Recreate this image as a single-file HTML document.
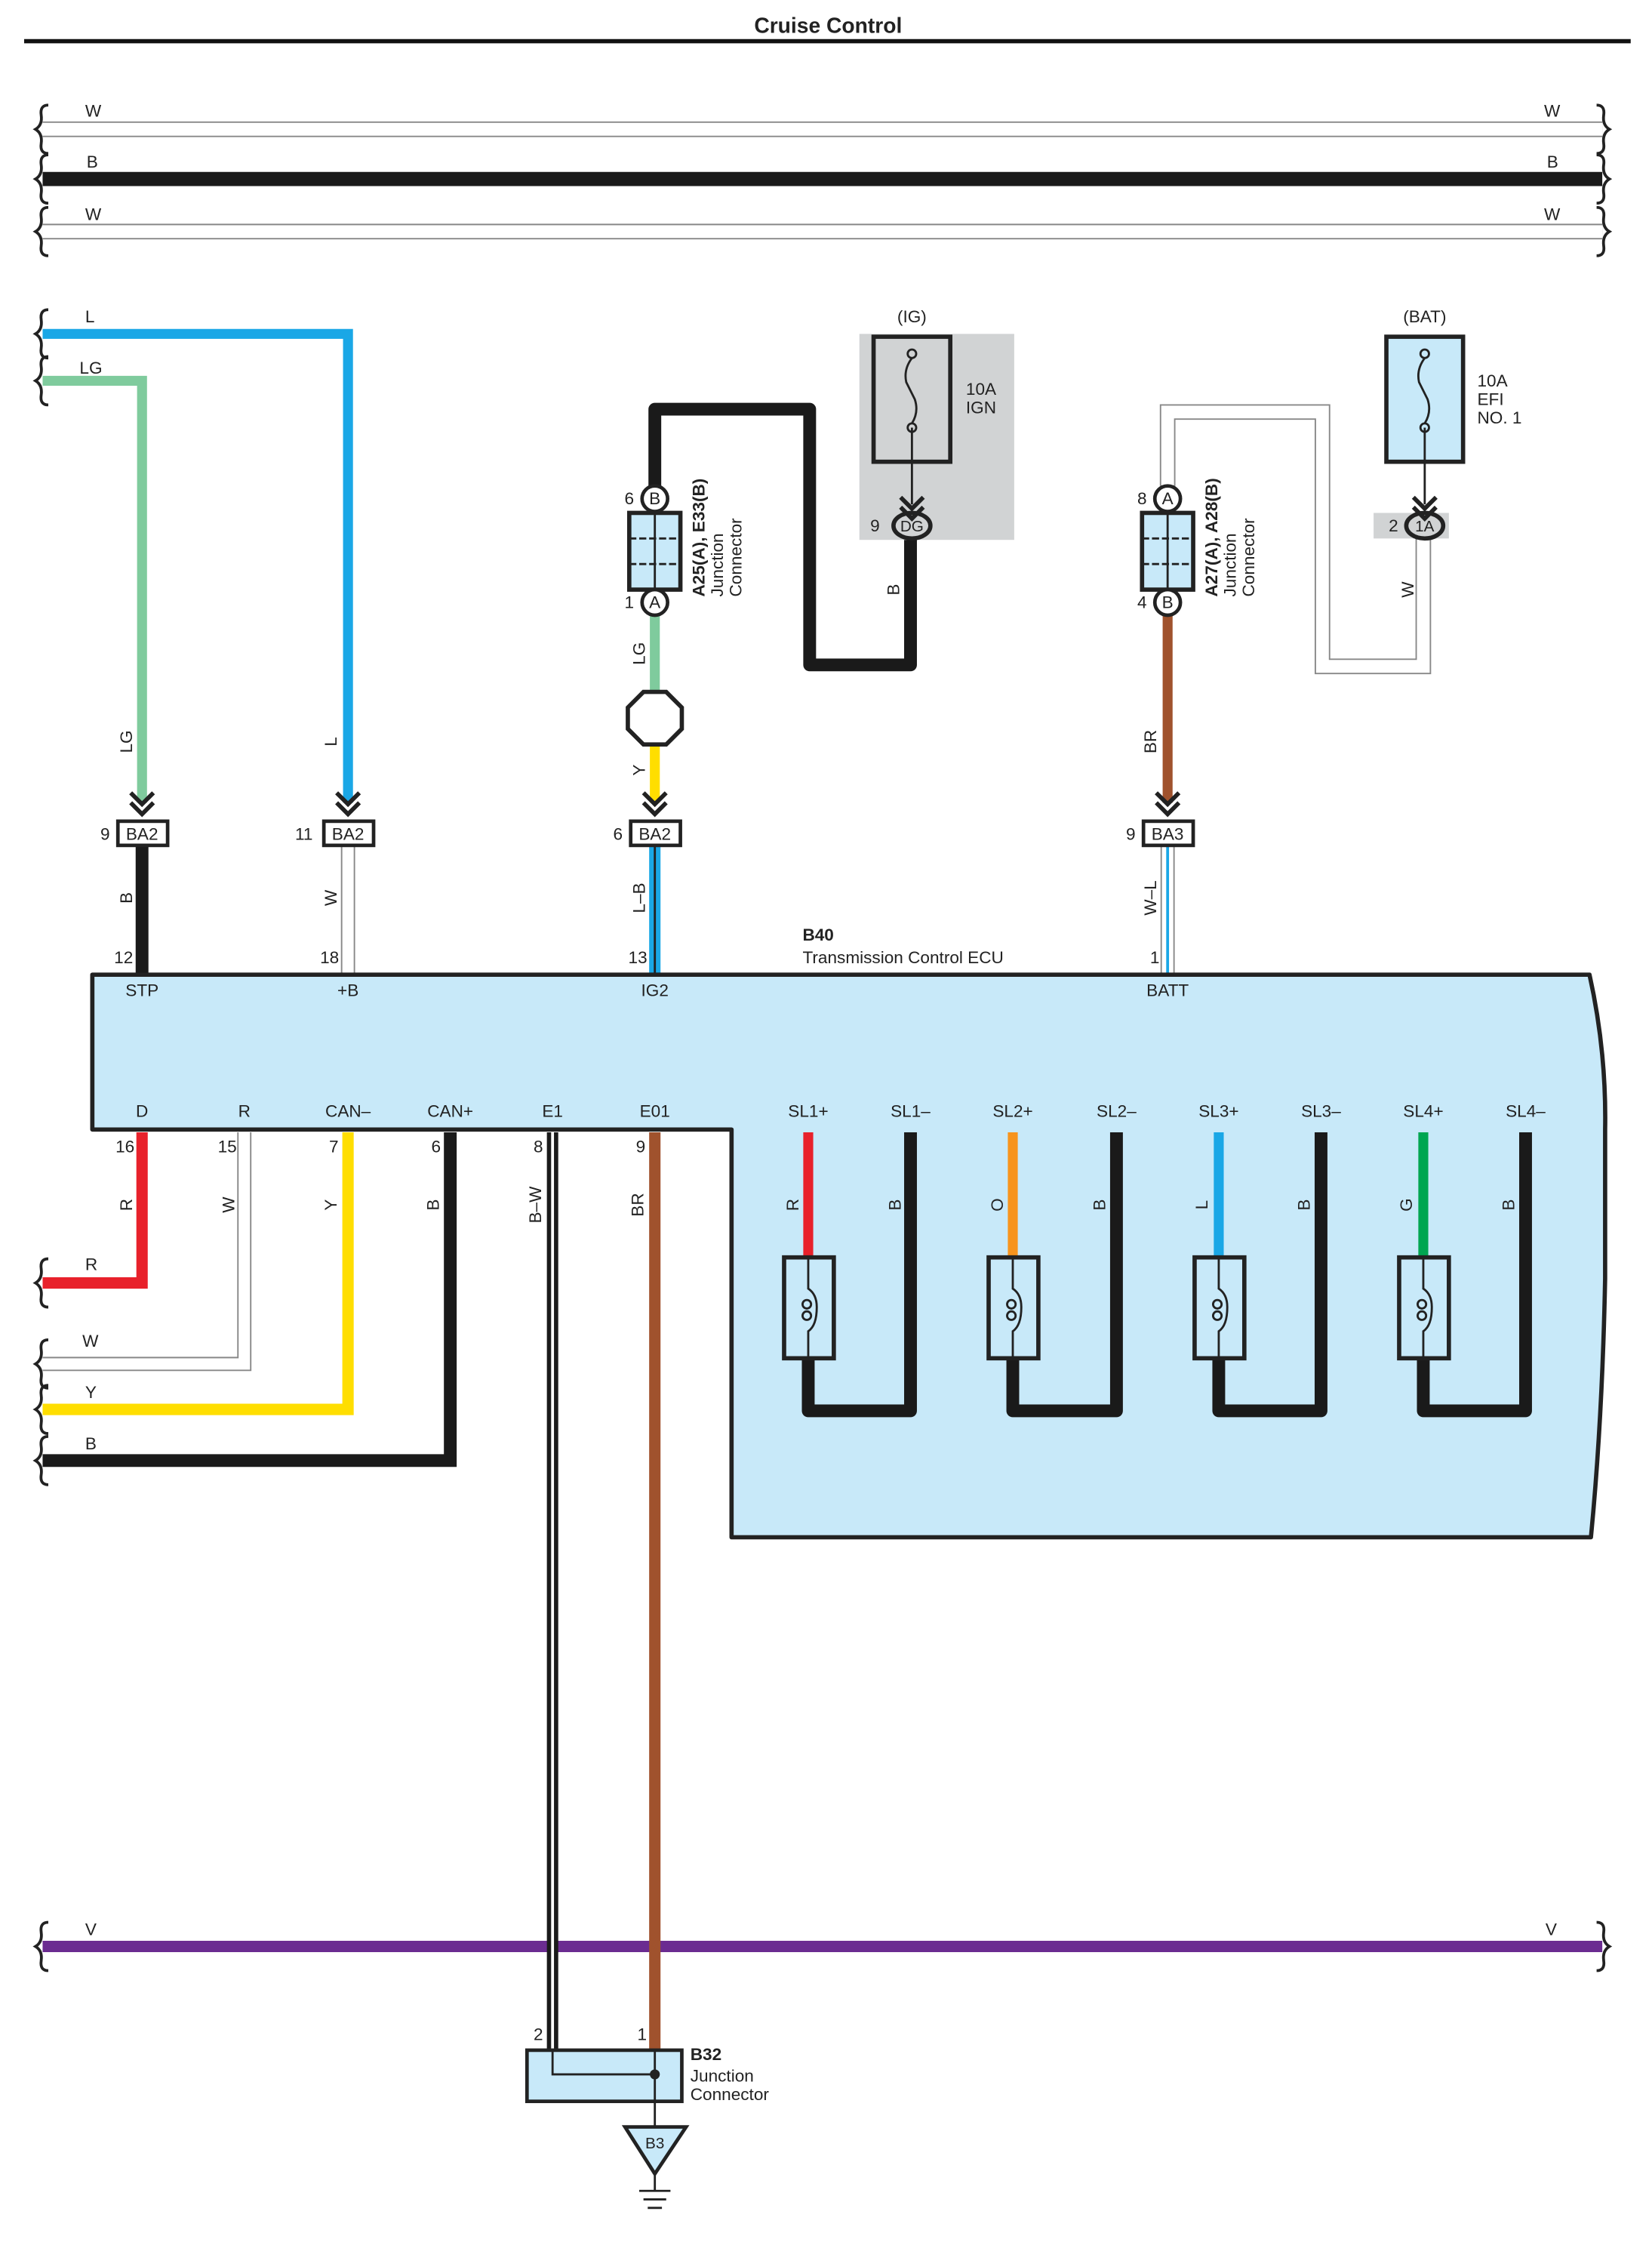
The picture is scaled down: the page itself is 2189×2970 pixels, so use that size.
<!DOCTYPE html>
<html><head><meta charset="utf-8"><style>html,body{margin:0;padding:0;background:#fff}svg{display:block}</style></head>
<body>
<svg width="2189" height="2970" viewBox="0 0 1163 1578" preserveAspectRatio="none" xmlns="http://www.w3.org/2000/svg" font-family="Liberation Sans, sans-serif" font-size="12" fill="#222">
<defs>
<g id="brace"><path d="M6,-17 Q0,-17 1,-10 Q2,-3 -3,0 Q2,3 1,10 Q0,17 6,17" fill="none" stroke="#222" stroke-width="2"/></g>
<g id="braceR"><path d="M-6,-17 Q0,-17 -1,-10 Q-2,-3 3,0 Q-2,3 -1,10 Q0,17 -6,17" fill="none" stroke="#222" stroke-width="2"/></g>
<g id="chev"><path d="M-8,-10 L0,-2 L8,-10 M-8,-3 L0,5 L8,-3" fill="none" stroke="#222" stroke-width="3"/></g>
<g id="coil"><rect x="-17" y="0" width="35" height="71" fill="#c8e9f9" stroke="#222" stroke-width="3"/><path d="M0,0 V22 Q6,26 6,35 Q6,48 0,52 V71" fill="none" stroke="#222" stroke-width="1.5"/><circle cx="-1" cy="33" r="3" fill="none" stroke="#222" stroke-width="1.5"/><circle cx="-1" cy="41" r="3" fill="none" stroke="#222" stroke-width="1.5"/></g>
<g id="fuse"><circle cx="0" cy="-26" r="3" fill="none" stroke="#222" stroke-width="1.5"/><circle cx="0" cy="26" r="3" fill="none" stroke="#222" stroke-width="1.5"/><path d="M0,-23 Q-6,-15 -4,-6 Q-1,0 2,6 Q5,15 0,23" fill="none" stroke="#222" stroke-width="1.5"/></g>
</defs>

<text x="583" y="23" text-anchor="middle" font-weight="bold" font-size="15">Cruise Control</text>
<line x1="17" y1="29" x2="1148" y2="29" stroke="#111" stroke-width="3"/>

<!-- top wires -->
<line x1="30" y1="91" x2="1128" y2="91" stroke="#888" stroke-width="11"/>
<line x1="30" y1="91" x2="1128" y2="91" stroke="#fff" stroke-width="9"/>
<line x1="30" y1="126" x2="1128" y2="126" stroke="#1a1a1a" stroke-width="10"/>
<line x1="30" y1="163" x2="1128" y2="163" stroke="#888" stroke-width="11"/>
<line x1="30" y1="163" x2="1128" y2="163" stroke="#fff" stroke-width="9"/>
<text x="60" y="82">W</text><text x="1087" y="82">W</text>
<text x="61" y="118">B</text><text x="1089" y="118">B</text>
<text x="60" y="155">W</text><text x="1087" y="155">W</text>
<use href="#brace" x="28" y="91"/><use href="#brace" x="28" y="126"/><use href="#brace" x="28" y="163"/>
<use href="#braceR" x="1130" y="91"/><use href="#braceR" x="1130" y="126"/><use href="#braceR" x="1130" y="163"/>

<!-- L and LG -->
<path d="M30,235 H245 V565" fill="none" stroke="#1aa7e6" stroke-width="7"/>
<path d="M30,268 H100 V565" fill="none" stroke="#7fcb9d" stroke-width="7"/>
<text x="60" y="227">L</text><text x="56" y="263">LG</text>
<use href="#brace" x="28" y="235"/><use href="#brace" x="28" y="268"/>
<text transform="translate(93,522) rotate(-90)" text-anchor="middle">LG</text>
<text transform="translate(237,522) rotate(-90)" text-anchor="middle">L</text>

<!-- IG fuse block -->
<rect x="605" y="235" width="109" height="145" fill="#d1d3d4"/>
<rect x="615" y="237" width="54" height="88" fill="#d1d3d4" stroke="#222" stroke-width="3"/>
<use href="#fuse" x="642" y="275"/>
<line x1="642" y1="301" x2="642" y2="355" stroke="#222" stroke-width="1.5"/>
<text x="642" y="227" text-anchor="middle">(IG)</text>
<text x="680" y="278">10A</text><text x="680" y="291">IGN</text>

<!-- IG black wire & junction A25 -->
<path d="M461,342 V288 H570 V468 H641 V380" fill="none" stroke="#1a1a1a" stroke-width="9" stroke-linejoin="round"/>
<ellipse cx="642" cy="370" rx="13" ry="9" fill="#d1d3d4" stroke="#222" stroke-width="3"/>
<text x="642" y="374" text-anchor="middle" font-size="11">DG</text>
<text x="616" y="374" text-anchor="middle">9</text>
<use href="#chev" x="642" y="360"/>
<text transform="translate(633,415) rotate(-90)" text-anchor="middle">B</text>

<line x1="461" y1="433" x2="461" y2="488" stroke="#7fcb9d" stroke-width="7"/>
<line x1="461" y1="522" x2="461" y2="565" stroke="#ffde00" stroke-width="7"/>
<polygon points="453,487 469,487 480,498 480,513 469,524 453,524 442,513 442,498" fill="#fff" stroke="#222" stroke-width="3"/>
<text transform="translate(454,460) rotate(-90)" text-anchor="middle">LG</text>
<text transform="translate(454,542) rotate(-90)" text-anchor="middle">Y</text>

<g>
<rect x="443" y="361" width="36" height="54" fill="#c8e9f9" stroke="#222" stroke-width="3"/>
<line x1="461" y1="361" x2="461" y2="415" stroke="#222" stroke-width="1.5"/>
<line x1="443" y1="379" x2="479" y2="379" stroke="#222" stroke-width="1.5" stroke-dasharray="5,2"/>
<line x1="443" y1="397" x2="479" y2="397" stroke="#222" stroke-width="1.5" stroke-dasharray="5,2"/>
<circle cx="461" cy="351" r="9" fill="#fff" stroke="#222" stroke-width="2.5"/><text x="461" y="355" text-anchor="middle">B</text>
<circle cx="461" cy="424" r="9" fill="#fff" stroke="#222" stroke-width="2.5"/><text x="461" y="428" text-anchor="middle">A</text>
<text x="443" y="355" text-anchor="middle">6</text><text x="443" y="428" text-anchor="middle">1</text>
<text transform="translate(496,420) rotate(-90)" font-weight="bold">A25(A), E33(B)</text>
<text transform="translate(509,420) rotate(-90)">Junction</text>
<text transform="translate(522,420) rotate(-90)">Connector</text>
</g>

<!-- BAT fuse -->
<rect x="976" y="237" width="54" height="88" fill="#c8e9f9" stroke="#222" stroke-width="3"/>
<use href="#fuse" x="1003" y="275"/>
<text x="1003" y="227" text-anchor="middle">(BAT)</text>
<text x="1040" y="272">10A</text><text x="1040" y="285">EFI</text><text x="1040" y="298">NO. 1</text>
<path d="M822,342 V290 H931 V469 H1002 V379" fill="none" stroke="#888" stroke-width="11"/>
<path d="M822,342 V290 H931 V469 H1002 V379" fill="none" stroke="#fff" stroke-width="9"/>
<line x1="1003" y1="301" x2="1003" y2="355" stroke="#222" stroke-width="1.5"/>
<rect x="967" y="361" width="53" height="18" fill="#d1d3d4"/>
<ellipse cx="1003" cy="370" rx="13" ry="9" fill="#d1d3d4" stroke="#222" stroke-width="3"/>
<text x="1003" y="374" text-anchor="middle" font-size="11">1A</text>
<text x="981" y="374" text-anchor="middle">2</text>
<use href="#chev" x="1003" y="360"/>
<text transform="translate(995,415) rotate(-90)" text-anchor="middle">W</text>

<line x1="822" y1="433" x2="822" y2="565" stroke="#a0522d" stroke-width="7"/>
<text transform="translate(814,522) rotate(-90)" text-anchor="middle">BR</text>
<g>
<rect x="804" y="361" width="36" height="54" fill="#c8e9f9" stroke="#222" stroke-width="3"/>
<line x1="822" y1="361" x2="822" y2="415" stroke="#222" stroke-width="1.5"/>
<line x1="804" y1="379" x2="840" y2="379" stroke="#222" stroke-width="1.5" stroke-dasharray="5,2"/>
<line x1="804" y1="397" x2="840" y2="397" stroke="#222" stroke-width="1.5" stroke-dasharray="5,2"/>
<circle cx="822" cy="351" r="9" fill="#fff" stroke="#222" stroke-width="2.5"/><text x="822" y="355" text-anchor="middle">A</text>
<circle cx="822" cy="424" r="9" fill="#fff" stroke="#222" stroke-width="2.5"/><text x="822" y="428" text-anchor="middle">B</text>
<text x="804" y="355" text-anchor="middle">8</text><text x="804" y="428" text-anchor="middle">4</text>
<text transform="translate(857,420) rotate(-90)" font-weight="bold">A27(A), A28(B)</text>
<text transform="translate(870,420) rotate(-90)">Junction</text>
<text transform="translate(883,420) rotate(-90)">Connector</text>
</g>

<!-- chevrons -->
<use href="#chev" x="100" y="568"/><use href="#chev" x="245" y="568"/><use href="#chev" x="461" y="568"/><use href="#chev" x="822" y="568"/>

<!-- wires BA -> ECU -->
<line x1="100" y1="595" x2="100" y2="686" stroke="#1a1a1a" stroke-width="9"/>
<line x1="245" y1="595" x2="245" y2="686" stroke="#888" stroke-width="10"/>
<line x1="245" y1="595" x2="245" y2="686" stroke="#fff" stroke-width="8"/>
<line x1="461" y1="595" x2="461" y2="686" stroke="#1aa7e6" stroke-width="8"/>
<line x1="461" y1="595" x2="461" y2="686" stroke="#222" stroke-width="1.5"/>
<line x1="822" y1="595" x2="822" y2="686" stroke="#888" stroke-width="10"/>
<line x1="822" y1="595" x2="822" y2="686" stroke="#fff" stroke-width="8"/>
<line x1="822" y1="595" x2="822" y2="686" stroke="#1aa7e6" stroke-width="2"/>

<g font-size="12">
<rect x="83" y="578" width="35" height="17" fill="#fff" stroke="#222" stroke-width="2.5"/><text x="100" y="591" text-anchor="middle">BA2</text><text x="74" y="591" text-anchor="middle">9</text>
<rect x="228" y="578" width="35" height="17" fill="#fff" stroke="#222" stroke-width="2.5"/><text x="245" y="591" text-anchor="middle">BA2</text><text x="214" y="591" text-anchor="middle">11</text>
<rect x="444" y="578" width="35" height="17" fill="#fff" stroke="#222" stroke-width="2.5"/><text x="461" y="591" text-anchor="middle">BA2</text><text x="435" y="591" text-anchor="middle">6</text>
<rect x="805" y="578" width="35" height="17" fill="#fff" stroke="#222" stroke-width="2.5"/><text x="822" y="591" text-anchor="middle">BA3</text><text x="796" y="591" text-anchor="middle">9</text>
</g>
<text transform="translate(93,632) rotate(-90)" text-anchor="middle">B</text>
<text transform="translate(237,632) rotate(-90)" text-anchor="middle">W</text>
<text transform="translate(454,632) rotate(-90)" text-anchor="middle">L–B</text>
<text transform="translate(814,632) rotate(-90)" text-anchor="middle">W–L</text>
<text x="87" y="678" text-anchor="middle">12</text><text x="232" y="678" text-anchor="middle">18</text><text x="449" y="678" text-anchor="middle">13</text><text x="813" y="678" text-anchor="middle">1</text>
<text x="565" y="662" font-weight="bold">B40</text>
<text x="565" y="678">Transmission Control ECU</text>

<!-- ECU body -->
<path d="M65,686 L1119,686 Q1131,740 1130,795 L1130,900 Q1128,1000 1120,1082 L515,1082 L515,795 L65,795 Z" fill="#c8e9f9" stroke="#222" stroke-width="3" stroke-linejoin="round"/>
<g text-anchor="middle">
<text x="100" y="701">STP</text><text x="245" y="701">+B</text><text x="461" y="701">IG2</text><text x="822" y="701">BATT</text>
<text x="100" y="786">D</text><text x="172" y="786">R</text><text x="245" y="786">CAN–</text><text x="317" y="786">CAN+</text><text x="389" y="786">E1</text><text x="461" y="786">E01</text>
<text x="569" y="786">SL1+</text><text x="641" y="786">SL1–</text><text x="713" y="786">SL2+</text><text x="786" y="786">SL2–</text>
<text x="858" y="786">SL3+</text><text x="930" y="786">SL3–</text><text x="1002" y="786">SL4+</text><text x="1074" y="786">SL4–</text>
</g>

<!-- bottom-left wires -->
<path d="M100,797 V903 H30" fill="none" stroke="#e8212b" stroke-width="8"/>
<path d="M172,797 V960 H30" fill="none" stroke="#888" stroke-width="10"/>
<path d="M172,797 V960 H30" fill="none" stroke="#fff" stroke-width="8"/>
<path d="M245,797 V992 H30" fill="none" stroke="#ffde00" stroke-width="8"/>
<path d="M317,797 V1028 H30" fill="none" stroke="#1a1a1a" stroke-width="9"/>
<use href="#brace" x="28" y="903"/><use href="#brace" x="28" y="960"/><use href="#brace" x="28" y="992"/><use href="#brace" x="28" y="1028"/>
<text x="60" y="894">R</text><text x="58" y="948">W</text><text x="60" y="984">Y</text><text x="60" y="1020">B</text>
<text x="88" y="811" text-anchor="middle">16</text><text x="160" y="811" text-anchor="middle">15</text><text x="235" y="811" text-anchor="middle">7</text><text x="307" y="811" text-anchor="middle">6</text><text x="379" y="811" text-anchor="middle">8</text><text x="451" y="811" text-anchor="middle">9</text>
<text transform="translate(93,848) rotate(-90)" text-anchor="middle">R</text>
<text transform="translate(165,848) rotate(-90)" text-anchor="middle">W</text>
<text transform="translate(237,848) rotate(-90)" text-anchor="middle">Y</text>
<text transform="translate(309,848) rotate(-90)" text-anchor="middle">B</text>
<text transform="translate(381,848) rotate(-90)" text-anchor="middle">B–W</text>
<text transform="translate(453,848) rotate(-90)" text-anchor="middle">BR</text>

<!-- V wire -->
<line x1="30" y1="1370" x2="1128" y2="1370" stroke="#6b2c91" stroke-width="8"/>
<text x="60" y="1362">V</text><text x="1088" y="1362">V</text>
<use href="#brace" x="28" y="1370"/><use href="#braceR" x="1130" y="1370"/>

<!-- E1 / E01 -->
<line x1="389" y1="797" x2="389" y2="1443" stroke="#1a1a1a" stroke-width="8"/>
<line x1="389" y1="797" x2="389" y2="1443" stroke="#fff" stroke-width="2"/>
<line x1="461" y1="797" x2="461" y2="1443" stroke="#a0522d" stroke-width="8"/>

<!-- B32 -->
<rect x="371" y="1443" width="109" height="36" fill="#c8e9f9" stroke="#222" stroke-width="2.5"/>
<path d="M389,1443 V1460 H461 V1443" fill="none" stroke="#222" stroke-width="1.5"/>
<circle cx="461" cy="1460" r="3.5" fill="#222"/>
<line x1="461" y1="1460" x2="461" y2="1497" stroke="#222" stroke-width="1.5"/>
<text x="379" y="1436" text-anchor="middle">2</text><text x="452" y="1436" text-anchor="middle">1</text>
<text x="486" y="1450" font-weight="bold">B32</text><text x="486" y="1465">Junction</text><text x="486" y="1478">Connector</text>
<polygon points="440,1497 483,1497 461,1530" fill="#c8e9f9" stroke="#222" stroke-width="2.5"/>
<text x="461" y="1512" text-anchor="middle" font-size="11">B3</text>
<line x1="461" y1="1530" x2="461" y2="1542" stroke="#222" stroke-width="1.5"/>
<line x1="450" y1="1542" x2="472" y2="1542" stroke="#222" stroke-width="1.5"/>
<line x1="453" y1="1548" x2="469" y2="1548" stroke="#222" stroke-width="1.5"/>
<line x1="456" y1="1554" x2="466" y2="1554" stroke="#222" stroke-width="1.5"/>

<!-- solenoids -->
<g>
<path d="M569,955 V993 H641 V797" fill="none" stroke="#1a1a1a" stroke-width="9" stroke-linejoin="round"/>
<line x1="569" y1="797" x2="569" y2="885" stroke="#e8212b" stroke-width="7"/>
<use href="#coil" x="569" y="885"/>
<path d="M713,955 V993 H786 V797" fill="none" stroke="#1a1a1a" stroke-width="9" stroke-linejoin="round"/>
<line x1="713" y1="797" x2="713" y2="885" stroke="#f7941d" stroke-width="7"/>
<use href="#coil" x="713" y="885"/>
<path d="M858,955 V993 H930 V797" fill="none" stroke="#1a1a1a" stroke-width="9" stroke-linejoin="round"/>
<line x1="858" y1="797" x2="858" y2="885" stroke="#1aa7e6" stroke-width="7"/>
<use href="#coil" x="858" y="885"/>
<path d="M1002,955 V993 H1074 V797" fill="none" stroke="#1a1a1a" stroke-width="9" stroke-linejoin="round"/>
<line x1="1002" y1="797" x2="1002" y2="885" stroke="#00a651" stroke-width="7"/>
<use href="#coil" x="1002" y="885"/>
</g>
<g text-anchor="middle">
<text transform="translate(562,848) rotate(-90)">R</text><text transform="translate(634,848) rotate(-90)">B</text>
<text transform="translate(706,848) rotate(-90)">O</text><text transform="translate(778,848) rotate(-90)">B</text>
<text transform="translate(850,848) rotate(-90)">L</text><text transform="translate(922,848) rotate(-90)">B</text>
<text transform="translate(994,848) rotate(-90)">G</text><text transform="translate(1066,848) rotate(-90)">B</text>
</g>
</svg>
</body></html>
